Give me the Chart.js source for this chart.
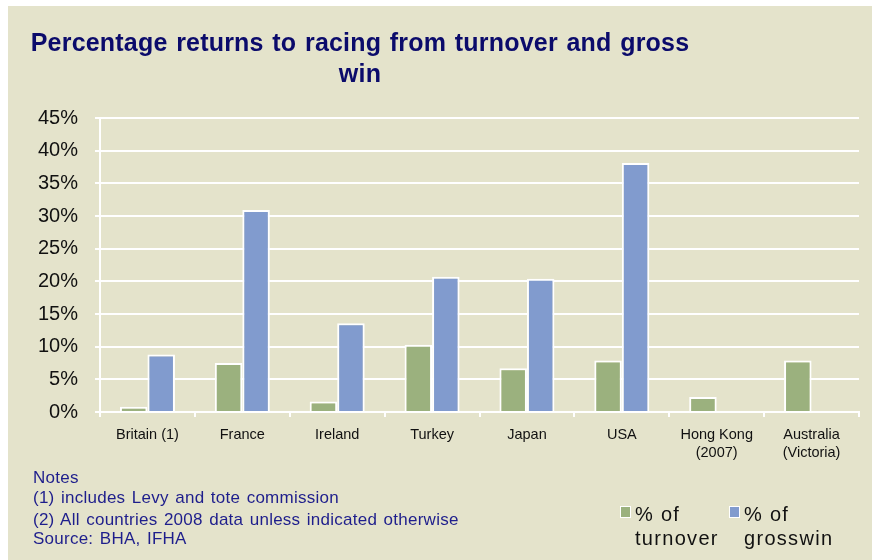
<!DOCTYPE html>
<html>
<head>
<meta charset="utf-8">
<script src="https://cdn.jsdelivr.net/npm/chart.js@4"></script>
<style>
  html, body { margin: 0; padding: 0; background: #ffffff; }
  #panel {
    position: absolute; left: 8px; top: 6px; width: 864px; height: 554px;
    background: #E4E3CB; font-family: "Liberation Sans", Arial, sans-serif;
  }
  #chart { position: absolute; left: 0; top: 0; }
  #title {
    position: absolute; left: 0; top: 21px; width: 704px; text-align: center;
    color: #0B0B6B; font-weight: bold; font-size: 25px; line-height: 31px;
    letter-spacing: 0.2px; word-spacing: 1.5px;
  }
  .note { position: absolute; left: 25px; color: #1E1E8C; font-size: 17px; white-space: nowrap; word-spacing: 1.5px; letter-spacing: 0.25px; }
  .key { position: absolute; font-size: 20px; line-height: 24px; color: #111; letter-spacing: 1.3px; }
  .key i {
    position: absolute; left: -15px; top: 4px; width: 9px; height: 10px;
    border: 1px solid #fff;
  }
</style>
</head>
<body>
<div id="panel">
  <canvas id="chart" width="864" height="554"></canvas>
  <div id="title">Percentage returns to racing from turnover and gross<br>win</div>
  <div class="note" style="top:462px">Notes</div>
  <div class="note" style="top:482px">(1) includes Levy and tote commission</div>
  <div class="note" style="top:504px">(2) All countries 2008 data unless indicated otherwise</div>
  <div class="note" style="top:523px">Source: BHA, IFHA</div>
  <div class="key" style="left:627px; top:496px"><i style="background:#9BB17E"></i>% of<br>turnover</div>
  <div class="key" style="left:736px; top:496px"><i style="background:#819BCE"></i>% of<br>grosswin</div>
</div>
<script>
// countries and returns (%)
const countries = ['Britain (1)', 'France', 'Ireland', 'Turkey', 'Japan', 'USA',
                   ['Hong Kong', '(2007)'], ['Australia', '(Victoria)']];
const pctTurnover = [0.8, 7.5, 1.6, 10.3, 6.7, 7.9, 2.3, 7.9];
const pctGrossWin = [8.8, 30.9, 13.6, 20.7, 20.4, 38.1, null, null];
const yTicks = [0, 5, 10, 15, 20, 25, 30, 35, 40, 45];

const ctx = document.getElementById('chart').getContext('2d');
new Chart(ctx, {
    type: 'bar',
    data: {
        labels: countries,
        datasets: [{
            label: '% of turnover',
            data: pctTurnover,
            backgroundColor: '#9BB17E',
            borderColor: '#ffffff',
            borderWidth: 2
        }, {
            label: '% of grosswin',
            data: pctGrossWin,
            backgroundColor: '#819BCE',
            borderColor: '#ffffff',
            borderWidth: 2
        }]
    },
    options: {
        responsive: false,
        animation: false,
        categoryPercentage: 0.58,
        barPercentage: 1.0,
        layout: { padding: { top: 112, right: 13, left: 0, bottom: 0 } },
        plugins: {
            legend: { display: false },
            title: { display: false },
            tooltip: { enabled: false }
        },
        scales: {
            x: {
                grid: { drawOnChartArea: false, color: '#ffffff', lineWidth: 2, tickLength: 5 },
                border: { color: '#ffffff', width: 2 },
                ticks: {
                    color: '#111', maxRotation: 0, autoSkip: false, padding: 9,
                    font: { family: 'Liberation Sans', size: 14.5, lineHeight: 1.25 }
                },
                afterFit: function(scale) { scale.height = 148; }
            },
            y: {
                min: 0,
                max: 45,
                afterBuildTicks: function(scale) { scale.ticks = yTicks.map(v => ({ value: v })); },
                grid: { color: '#ffffff', lineWidth: 2, tickLength: 5 },
                border: { color: '#ffffff', width: 2 },
                ticks: {
                    color: '#111', padding: 17,
                    font: { family: 'Liberation Sans', size: 20 },
                    callback: v => v + '%'
                },
                afterFit: function(scale) { scale.width = 92; }
            }
        }
    }
});
</script>
</body>
</html>
